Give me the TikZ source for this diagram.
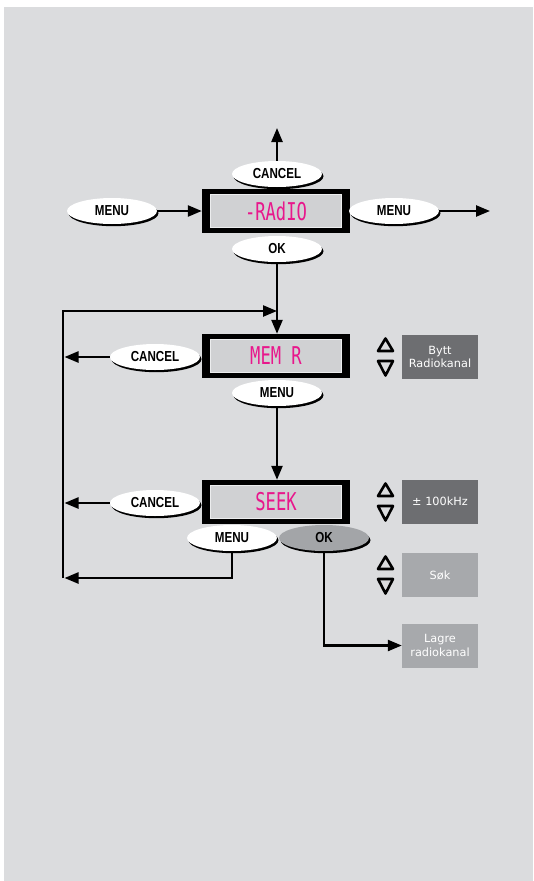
\documentclass[tikz,border=0pt]{standalone}
\usepackage{fontspec}
\setmainfont{DejaVu Sans}
\newfontfamily\btnfont[FakeStretch=0.8]{Liberation Sans}
\newfontfamily\lcdfont[FakeStretch=0.7]{DejaVu Sans Mono}
\usetikzlibrary{arrows.meta, shadows, shapes.geometric, positioning}
\definecolor{panel}{HTML}{DBDCDE}
\definecolor{lcdgray}{HTML}{D0D1D3}
\definecolor{lcdedge}{HTML}{ECEDEE}
\definecolor{lcdpink}{HTML}{E8178C}
\definecolor{infodark}{HTML}{6D6E71}
\definecolor{infolight}{HTML}{A7A9AC}
\definecolor{okgray}{HTML}{A3A5A8}

\begin{document}
\begin{tikzpicture}[x=1pt, y=-1pt,
    btn/.style={ellipse, fill=white, minimum width=90pt, minimum height=26pt,
                inner sep=0pt, font=\btnfont\bfseries\fontsize{14.5}{15}\selectfont,
                drop shadow={shadow xshift=1.5pt, shadow yshift=-2.2pt,
                             fill=black, opacity=1}},
    lcd/.style={rectangle, fill=black, minimum width=148pt, minimum height=44pt,
                inner sep=0pt, text=lcdpink,
                font=\lcdfont\fontsize{24.5}{25}\selectfont,
                path picture={\filldraw[fill=lcdgray, draw=lcdedge, line width=0.8pt]
                  ([shift={(8.5pt,-5.5pt)}]path picture bounding box.north west)
                  rectangle
                  ([shift={(-8.5pt,5.5pt)}]path picture bounding box.south east);}},
    info/.style={rectangle, fill=infodark, minimum width=76pt, minimum height=44pt,
                 inner sep=0pt, text=white, align=center,
                 font=\fontsize{11.3}{13.5}\selectfont},
    key/.style={line width=2.6pt, line join=round},
    arr/.style={-{Triangle[length=14pt, width=11pt]}, line width=2.4pt},
  ]
    \useasboundingbox (0,0) rectangle (533,881);
    \fill[panel] (4,7) rectangle (533,881);

    % Displays
    \node[lcd] (radio) at (276,211) {-RAdIO};
    \node[lcd] (memr)  at (276,356) {MEM R};
    \node[lcd] (seek)  at (276,502) {SEEK};

    % Knapper
    \node[btn] (cancelA) at (277,174) {CANCEL};
    \node[btn] (menuL)   at (112,211) {MENU};
    \node[btn] (menuR)   at (394,211) {MENU};
    \node[btn] (okA)     at (277,249) {OK};

    \node[btn] (cancelB) at (155,357) {CANCEL};
    \node[btn] (menuB)   at (277,393) {MENU};

    \node[btn] (cancelC) at (155,503) {CANCEL};
    \node[btn] (menuC)   at (232,538) {MENU};
    \node[btn, fill=okgray] (okC) at (324,538) {OK};

    % Infobokser
    \node[info] (bytt)  at (440,357)   {Bytt\\Radiokanal};
    \node[info] (khz)   at (440,501.5) {± 100kHz};
    \node[info, fill=infolight] (sok)   at (440,575)   {Søk};
    \node[info, fill=infolight] (lagre) at (440,645.5) {Lagre\\radiokanal};

    % Piltaster
    \foreach \t in {337,482,555} {
      \draw[key] (378,\t+14) -- (385.5,\t+1.5) -- (393,\t+14) -- cycle;
      \draw[key] (378,\t+24) -- (385.5,\t+38.5) -- (393,\t+24) -- cycle;
    }

    % Piler
    \coordinate (upend) at (277,128);
    \coordinate (rightend) at (490,211);
    \coordinate (loopbot) at (63,578);
    \coordinate (looptop) at (63,311);

    \draw[arr] (cancelA) -- (upend);
    \draw[arr] (menuL) -- (radio);
    \draw[arr] (menuR) -- (rightend);
    \draw[arr] (okA.south) -- (okA.south |- memr.north);
    \draw[arr] (menuB.south) -- (menuB.south |- seek.north);
    \draw[arr, shorten >=1.5pt] (cancelB) -- (cancelB -| looptop);
    \draw[arr, shorten >=1.5pt] (cancelC) -- (cancelC -| looptop);
    \draw[arr, shorten >=1.5pt] (menuC.south) |- (loopbot);
    \draw[arr] (loopbot) -- (looptop) -- (looptop -| okA.south);
    \draw[arr] (okC.south) |- (lagre);
  \end{tikzpicture}
\end{document}
